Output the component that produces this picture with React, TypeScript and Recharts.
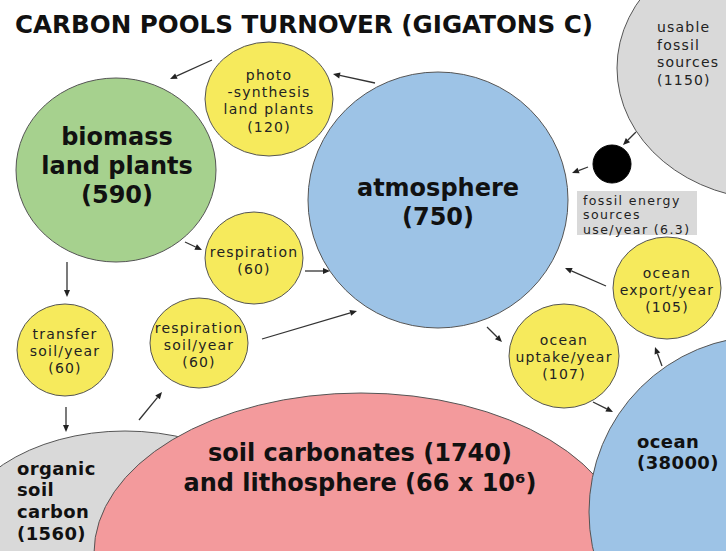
import { ScatterChart, Scatter, XAxis, YAxis, ReferenceLine } from 'recharts';

const W = 726;
const H = 551;

// carbon pools and yearly flows (gigatons C), drawn back to front
const poolNames = [
  'usable fossil sources', 'organic soil carbon', 'soil carbonates', 'ocean',
  'biomass land plants', 'atmosphere', 'photosynthesis', 'respiration',
  'transfer soil/year', 'respiration soil/year', 'ocean uptake/year',
  'ocean export/year', 'fossil energy use/year',
];
const poolValues = [1150, 1560, 1740, 38000, 590, 750, 120, 60, 60, 60, 107, 105, 6.3];
const poolKinds = [
  'gray', 'gray', 'pink', 'blue', 'green', 'blue', 'yellow', 'yellow',
  'yellow', 'yellow', 'yellow', 'yellow', 'black',
];
// bubble centres and radii, in picture units
const poolX = [775, 125, 361, 765, 116, 438, 269, 254, 65, 199, 564, 667, 612];
const poolY = [68, 545, 553, 512, 170, 200, 99, 258, 350, 343, 356, 288, 164];
const poolRx = [158, 172, 267, 176, 100, 130, 64, 49, 48, 49, 55, 54, 19];
const poolRy = [132, 114, 160, 176, 92, 128, 57, 46, 46, 45, 52, 51, 19];

// text blocks
const labelLines: string[][] = [
  ['CARBON POOLS TURNOVER (GIGATONS C)'],
  ['usable', 'fossil', 'sources', '(1150)'],
  ['fossil energy', 'sources', 'use/year (6.3)'],
  ['photo', '-synthesis', 'land plants', '(120)'],
  ['biomass', 'land plants', '(590)'],
  ['atmosphere', '(750)'],
  ['respiration', '(60)'],
  ['transfer', 'soil/year', '(60)'],
  ['respiration', 'soil/year', '(60)'],
  ['ocean', 'uptake/year', '(107)'],
  ['ocean', 'export/year', '(105)'],
  ['ocean', '(38000)'],
  ['organic', 'soil', 'carbon', '(1560)'],
  ['soil carbonates (1740)', 'and lithosphere (66 x 10\u2076)'],
];
const labelKinds = [
  'title', 'smallLeft', 'box', 'small', 'big', 'big', 'small', 'small',
  'small', 'small', 'small', 'medium', 'medium', 'large',
];
const labelX = [15, 657, 583, 269, 117, 438, 254, 65, 199, 564, 667, 637, 17, 360];
const labelY = [25, 27, 200, 75, 137, 188, 252, 334, 328, 340, 273, 441, 468, 453];

// flow arrows: start and end points
const arrowFrom = [
  [212, 60], [375, 83], [185, 242], [305, 271], [67, 262], [66, 407], [139, 420],
  [262, 339], [487, 327], [593, 402], [662, 366], [606, 286], [636, 132], [588, 167],
];
const arrowTo = [
  [170, 79], [333, 74], [202, 250], [330, 271], [67, 297], [66, 432], [162, 392],
  [357, 311], [502, 342], [613, 412], [655, 347], [565, 268], [623, 145], [572, 173],
];

const FILL: Record<string, string> = {
  gray: '#d9d9d9',
  pink: '#f39a9c',
  blue: '#9dc3e6',
  green: '#a6d18e',
  yellow: '#f6ea5c',
  black: '#000000',
};

type TextStyle = { size: number; bold: boolean; anchor: 'start' | 'middle'; lh: number; spacing: number };
const TEXT: Record<string, TextStyle> = {
  title: { size: 24, bold: true, anchor: 'start', lh: 0, spacing: 0 },
  small: { size: 14, bold: false, anchor: 'middle', lh: 17.2, spacing: 1.2 },
  smallLeft: { size: 14, bold: false, anchor: 'start', lh: 17.7, spacing: 1.2 },
  box: { size: 12.5, bold: false, anchor: 'start', lh: 14.6, spacing: 1.4 },
  big: { size: 24, bold: true, anchor: 'middle', lh: 29, spacing: 0 },
  medium: { size: 18, bold: true, anchor: 'start', lh: 21.7, spacing: 0.4 },
  large: { size: 24, bold: true, anchor: 'middle', lh: 30, spacing: 0 },
};

const pools = poolNames.map((name, i) => ({
  name,
  value: poolValues[i],
  kind: poolKinds[i],
  x: poolX[i],
  y: poolY[i],
  rx: poolRx[i],
  ry: poolRy[i],
}));

const labels = labelLines.map((lines, i) => ({
  lines,
  kind: labelKinds[i],
  x: labelX[i],
  y: labelY[i],
}));

const SX = W / 726;
const SY = H / 551;

function PoolShape(props: any) {
  const { cx, cy, payload } = props;
  if (cx == null || cy == null) return <g />;
  return (
    <ellipse
      cx={cx}
      cy={cy}
      rx={payload.rx * SX}
      ry={payload.ry * SY}
      fill={FILL[payload.kind]}
      stroke={payload.kind === 'black' ? '#000' : '#555'}
      strokeWidth={1}
    />
  );
}

function LabelShape(props: any) {
  const { cx, cy, payload } = props;
  if (cx == null || cy == null) return <g />;
  const st = TEXT[payload.kind];
  return (
    <g>
      {payload.kind === 'box' && (
        <rect x={cx - 6} y={cy - 9} width={120} height={44} fill="#d9d9d9" />
      )}
      {payload.lines.map((line: string, i: number) => (
        <text
          key={i}
          x={cx}
          y={cy + i * st.lh}
          textAnchor={st.anchor}
          dominantBaseline="central"
          fontFamily="'DejaVu Sans', Verdana, sans-serif"
          fontSize={st.size}
          fontWeight={st.bold ? 700 : 400}
          letterSpacing={st.spacing}
          fill={st.bold ? '#111' : '#222'}
          {...(payload.kind === 'title' ? { textLength: 578, lengthAdjust: 'spacingAndGlyphs' } : {})}
        >
          {line}
        </text>
      ))}
    </g>
  );
}

function ArrowShape(props: any) {
  const { x1, y1, x2, y2 } = props;
  if (x1 == null || x2 == null) return <g />;
  const a = Math.atan2(y2 - y1, x2 - x1);
  const len = 7;
  const half = 3;
  const bx = x2 - len * Math.cos(a);
  const by = y2 - len * Math.sin(a);
  const p1 = `${bx + half * Math.sin(a)},${by - half * Math.cos(a)}`;
  const p2 = `${bx - half * Math.sin(a)},${by + half * Math.cos(a)}`;
  return (
    <g>
      <line x1={x1} y1={y1} x2={bx} y2={by} stroke="#333" strokeWidth={1.3} />
      <polygon points={`${x2},${y2} ${p1} ${p2}`} fill="#222" />
    </g>
  );
}

export default function App() {
  return (
    <div style={{ position: 'absolute', left: 0, top: 0, width: W, height: H, background: '#fff' }}>
      <ScatterChart width={W} height={H} margin={{ top: 0, right: 0, bottom: 0, left: 0 }}>
        <XAxis type="number" dataKey="x" domain={[0, 726]} hide allowDataOverflow />
        <YAxis type="number" dataKey="y" domain={[0, 551]} reversed hide allowDataOverflow />
        <Scatter data={pools} shape={PoolShape} isAnimationActive={false} />
        {arrowFrom.map((from, i) => (
          <ReferenceLine
            key={i}
            segment={[{ x: from[0], y: from[1] }, { x: arrowTo[i][0], y: arrowTo[i][1] }]}
            ifOverflow="visible"
            shape={ArrowShape}
          />
        ))}
        <Scatter data={labels} shape={LabelShape} isAnimationActive={false} />
      </ScatterChart>
    </div>
  );
}
